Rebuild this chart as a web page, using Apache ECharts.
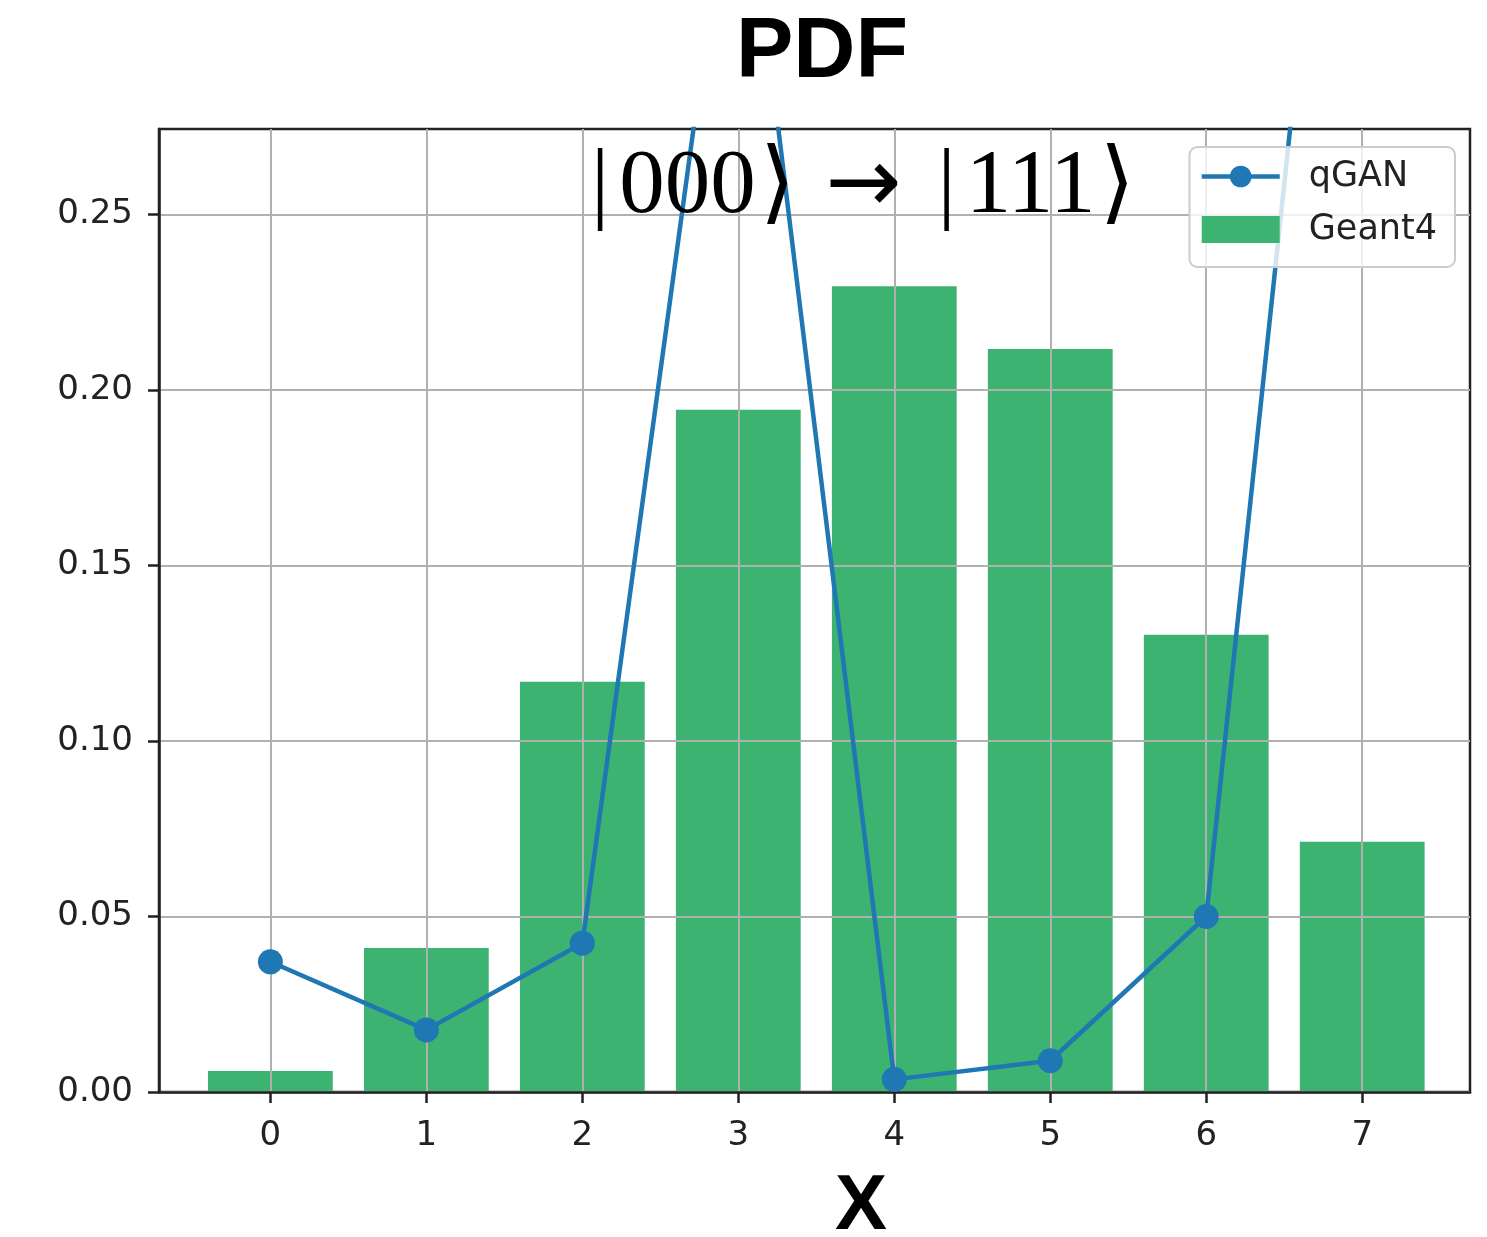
<!DOCTYPE html>
<html>
<head>
<meta charset="utf-8">
<title>PDF</title>
<script src="https://cdn.jsdelivr.net/npm/echarts@6/dist/echarts.min.js"></script>
<style>
  html, body { margin: 0; padding: 0; background: #fff; }
  #chart { width: 1487px; height: 1237px; }
</style>
</head>
<body>
<div id="chart"></div>
<script>
// Basis states |000> ... |111> as integer positions on the x axis
const xPositions = [0, 1, 2, 3, 4, 5, 6, 7];
// Simulated (Geant4) probability per state
const geant4Values = [0.0060, 0.0410, 0.1169, 0.1944, 0.2296, 0.2117, 0.1303, 0.0713];
// qGAN generated probability per state
const qganValues = [0.0371, 0.0177, 0.0424, 0.3680, 0.0036, 0.0089, 0.0500, 0.4674];
// Tick labels
const yTicks = [0, 0.05, 0.10, 0.15, 0.20, 0.25];
const xTicks = [0, 1, 2, 3, 4, 5, 6, 7];

const seriesNames = ['qGAN', 'Geant4'];
const barHalfWidth = 0.4;
const lineBlue = '#1f77b4';
const barGreen = '#3cb371';

const chart = echarts.init(document.getElementById('chart'), null, { renderer: 'canvas' });

const axisCommon = {
  axisLine: { show: true, onZero: false, lineStyle: { color: '#222', width: 2.5 } },
  axisTick: { show: true, inside: false, length: 11, lineStyle: { color: '#222', width: 2.5 } },
  splitLine: { show: true, lineStyle: { color: '#b0b0b0', width: 2 } },
  z: 2
};

// math-style annotation pieces
const serif = '"Liberation Serif", "DejaVu Serif", serif';
const annotationRich = {
  bar: { fontSize: 91, fontFamily: serif, fill: '#000', padding: [0, 10, 0, 0] },
  num: { fontSize: 91, fontFamily: serif, fill: '#000' },
  ang: { fontSize: 91, fontFamily: serif, fill: '#000', padding: [0, 0, 0, 4] },
  arr: { fontSize: 91, fontFamily: '"DejaVu Sans", sans-serif', fill: '#000', padding: [0, 36, 0, 30] }
};

const option = {
  backgroundColor: '#ffffff',
  animation: false,
  grid: {
    left: 159, top: 129, right: 17, bottom: 145,
    show: true, borderColor: '#222', borderWidth: 2.5, backgroundColor: 'transparent'
  },
  xAxis: Object.assign({}, axisCommon, {
    type: 'value',
    min: -0.714,
    max: 7.691,
    splitNumber: 8,
    axisTick: Object.assign({}, axisCommon.axisTick, { customValues: xTicks }),
    axisLabel: {
      customValues: xTicks,
      margin: 27,
      fontSize: 34,
      color: '#222',
      fontFamily: 'DejaVu Sans',
      formatter: v => String(Math.round(v))
    }
  }),
  yAxis: Object.assign({}, axisCommon, {
    type: 'value',
    min: 0,
    max: 0.2744,
    interval: 0.05,
    axisTick: Object.assign({}, axisCommon.axisTick, { customValues: yTicks }),
    axisLabel: {
      customValues: yTicks,
      margin: 26,
      fontSize: 34,
      color: '#222',
      fontFamily: 'DejaVu Sans',
      formatter: v => v.toFixed(2)
    }
  }),
  legend: {
    orient: 'vertical',
    right: 32,
    top: 147,
    data: [
      { name: seriesNames[0] },
      { name: seriesNames[1], icon: 'rect' }
    ],
    itemWidth: 78,
    itemHeight: 27,
    itemGap: 18,
    padding: [12, 18, 20, 10],
    backgroundColor: 'rgba(255,255,255,0.8)',
    borderColor: '#cccccc',
    borderWidth: 2,
    borderRadius: 8,
    lineStyle: { width: 4.5, color: lineBlue },
    textStyle: {
      fontSize: 35,
      color: '#222',
      fontFamily: 'DejaVu Sans',
      padding: [0, 0, 0, 24]
    },
    z: 20
  },
  series: [
    {
      name: seriesNames[0],
      type: 'line',
      data: xPositions.map((x, i) => [x, qganValues[i]]),
      symbol: 'circle',
      symbolSize: 25,
      showAllSymbol: true,
      clip: true,
      lineStyle: { color: lineBlue, width: 4.5 },
      itemStyle: { color: lineBlue },
      emphasis: { disabled: true },
      z: 5
    },
    {
      name: seriesNames[1],
      type: 'custom',
      data: xPositions.map((x, i) => [x, geant4Values[i]]),
      itemStyle: { color: barGreen },
      z: 1,
      renderItem: function (params, api) {
        const x = api.value(0);
        const v = api.value(1);
        const p0 = api.coord([x - barHalfWidth, v]);
        const p1 = api.coord([x + barHalfWidth, 0]);
        return {
          type: 'rect',
          shape: { x: p0[0], y: p0[1], width: p1[0] - p0[0], height: p1[1] - p0[1] },
          style: { fill: barGreen }
        };
      }
    }
  ],
  graphic: [
    {
      type: 'text',
      x: 822, y: 53,
      z: 30,
      style: {
        text: 'PDF',
        font: 'bold 86px "Liberation Sans", Arial, sans-serif',
        fill: '#000',
        textAlign: 'center',
        textVerticalAlign: 'middle'
      }
    },
    {
      type: 'text',
      x: 863, y: 188,
      z: 30,
      style: {
        text: '{bar||}{num|000}{ang|\u27E9}{arr|\u2192}{bar||}{num|111}{ang|\u27E9}',
        rich: annotationRich,
        textAlign: 'center',
        textVerticalAlign: 'middle'
      }
    },
    {
      type: 'text',
      x: 861, y: 1207,
      z: 30,
      style: {
        text: 'X',
        font: 'bold 78px "Liberation Sans", Arial, sans-serif',
        fill: '#000',
        textAlign: 'center',
        textVerticalAlign: 'middle'
      }
    }
  ]
};

chart.setOption(option);
</script>
</body>
</html>
